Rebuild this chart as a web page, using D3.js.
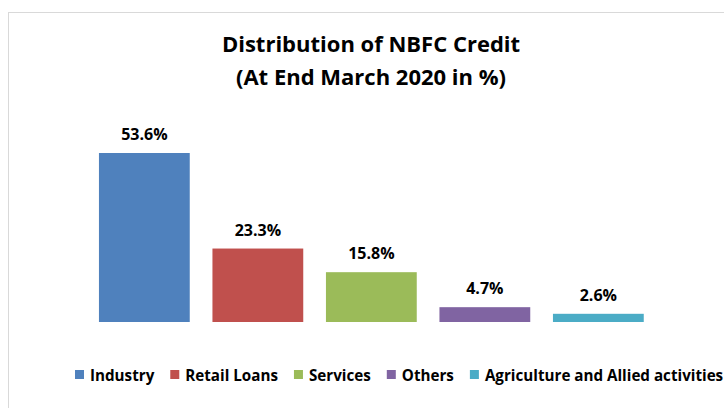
<!DOCTYPE html>
<html>
<head>
<meta charset="utf-8">
<script src="https://d3js.org/d3.v7.min.js"></script>
<style>
  body { margin: 0; background: #fff; }
  svg text { font-family: "Open Sans", "Noto Sans", sans-serif; font-weight: bold; fill: #000; }
</style>
</head>
<body>
<svg width="724" height="408"></svg>
<script>
var categories = ["Industry", "Retail Loans", "Services", "Others", "Agriculture and Allied activities"];
var values = [53.6, 23.3, 15.8, 4.7, 2.6];
var colors = ["#4f81bd", "#c0504d", "#9bbb59", "#8064a2", "#4bacc6"];
var titleLines = ["Distribution of NBFC Credit", "(At End March 2020 in %)"];

var svg = d3.select("svg");

// chart frame (runs off the right/bottom edge like the screenshot)
svg.append("rect")
    .attr("x", 8.5).attr("y", 12.5)
    .attr("width", 740).attr("height", 420)
    .attr("fill", "#fff")
    .attr("stroke", "#d9d9d9");

var x = d3.scaleBand()
    .domain(categories)
    .range([87.6, 655.1])
    .paddingInner(0.2)
    .paddingOuter(0.1);

var y = d3.scaleLinear()
    .domain([0, 60])
    .range([322, 322 - 60 * 3.153]);

svg.append("g").selectAll("text")
    .data(titleLines)
    .enter().append("text")
    .attr("x", 371)
    .attr("y", (d, i) => 52 + i * 33)
    .attr("text-anchor", "middle")
    .attr("font-size", 22)
    .text(d => d);

var bars = svg.append("g");
bars.selectAll("rect")
    .data(values)
    .enter().append("rect")
    .attr("x", (d, i) => x(categories[i]))
    .attr("y", d => y(d))
    .attr("width", x.bandwidth())
    .attr("height", d => y(0) - y(d))
    .attr("fill", (d, i) => colors[i]);

bars.selectAll("text")
    .data(values)
    .enter().append("text")
    .attr("x", (d, i) => x(categories[i]) + x.bandwidth() / 2)
    .attr("y", d => y(d) - 13)
    .attr("text-anchor", "middle")
    .attr("font-size", 16)
    .text(d => d.toFixed(1) + "%");

// legend, laid out from measured text widths
var legend = svg.append("g").attr("transform", "translate(0,381)");
var lx = 75;
categories.forEach(function(c, i) {
  legend.append("rect")
      .attr("x", lx).attr("y", -11)
      .attr("width", 9).attr("height", 9)
      .attr("fill", colors[i]);
  var t = legend.append("text")
      .attr("x", lx + 15)
      .attr("y", 0)
      .attr("font-size", 15.2)
      .text(c);
  lx += 15 + t.node().getComputedTextLength() + 16;
});
</script>
</body>
</html>
